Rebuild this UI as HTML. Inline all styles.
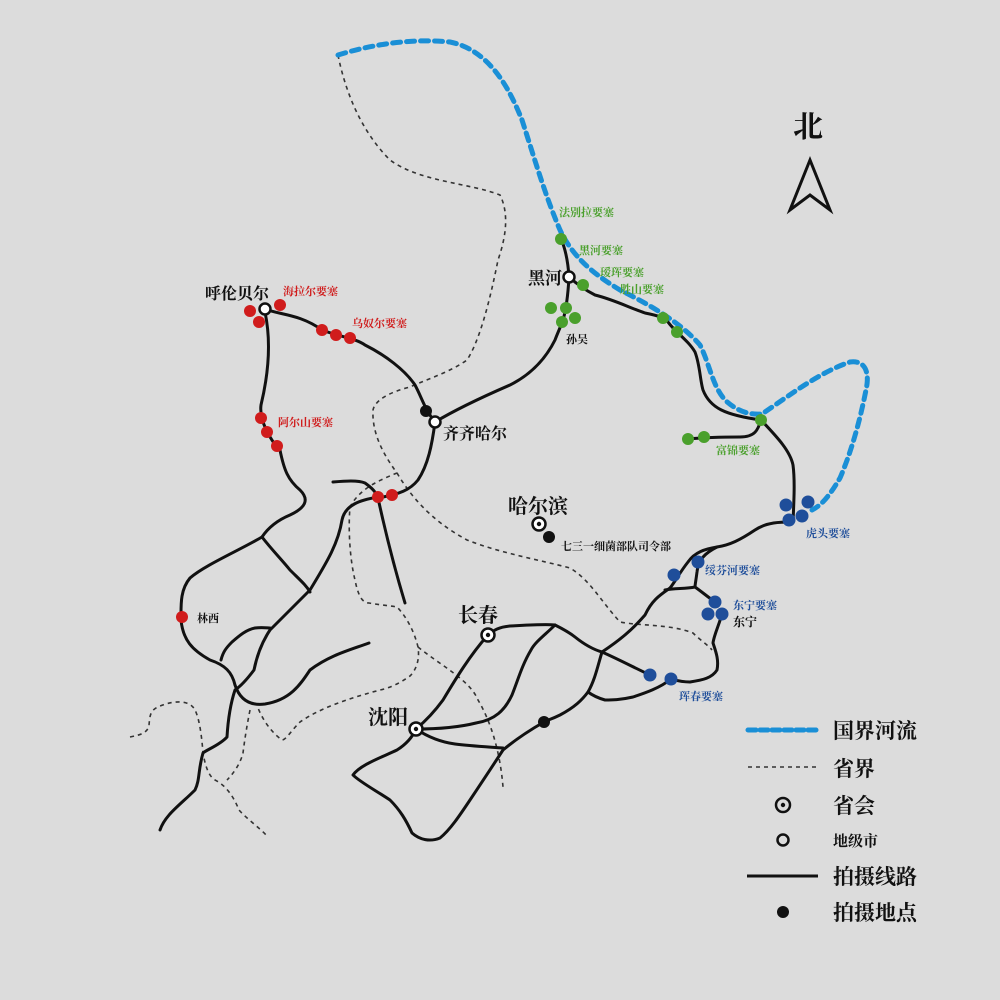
<!DOCTYPE html>
<html><head><meta charset="utf-8"><style>
html,body{margin:0;padding:0;background:#dcdcdc;}
svg{display:block;}
text{font-family:"Liberation Serif","Noto Serif CJK SC","Noto Sans CJK SC",serif;font-weight:bold;}
</style></head><body>
<svg width="1000" height="1000" viewBox="0 0 1000 1000" xmlns="http://www.w3.org/2000/svg">
<rect width="1000" height="1000" fill="#dcdcdc"/>
<g fill="none" stroke="#333" stroke-width="1.6" stroke-dasharray="4,4">
<path d="M338,55 C345,90 360,130 390,160 C420,182 470,183 500,195 C510,215 505,240 498,260 C490,300 480,340 467,360 C450,372 430,378 410,387 C390,392 375,400 373,410 C372,430 380,450 397,473 C380,480 360,488 350,507 C348,530 350,560 355,580 C358,595 362,603 369,603 C380,605 392,606 397,607 C405,615 414,630 418,647 C420,660 416,670 410,676 C400,683 390,688 380,690 C350,698 320,708 300,722 C290,732 286,740 282,740 C275,735 265,725 258,708"/>
<path d="M397,473 C410,495 430,520 467,540 C500,553 540,560 570,568 C590,580 600,600 620,622 C640,626 670,624 693,633 C700,640 708,645 712,650"/>
<path d="M418,647 C440,665 470,680 478,700 C490,720 500,750 503,787"/>
<path d="M130,737 C140,735 148,733 149,725 C150,715 150,710 160,706 C175,700 190,700 195,710 C200,720 202,740 203,753 C206,770 210,777 215,780 C225,785 233,795 239,810 C248,820 260,828 268,837"/>
<path d="M250,710 C246,730 244,745 243,753 C240,765 232,775 227,780"/>
</g>
<path d="M338,55 C370,45 410,38 450,42 C490,50 510,90 522,120 C535,160 545,195 560,230 C572,255 590,272 620,290 C650,305 680,322 700,345 C710,365 712,385 725,400 C738,412 750,415 762,414 C790,395 820,372 850,362 C865,360 870,372 866,390 C860,420 852,450 840,478 C830,495 822,505 812,510" fill="none" stroke="#1a8fd6" stroke-width="5" stroke-dasharray="8,6" stroke-linecap="round"/>
<g fill="none" stroke="#111" stroke-width="3" stroke-linecap="round" stroke-linejoin="round">
<path d="M265,309 C280,315 300,314 322,330 C340,337 355,338 365,345 C385,355 405,370 415,385 C422,398 425,410 435,422"/>
<path d="M265,312 C272,345 267,380 261,405 C259,420 270,440 280,450 C284,470 288,480 300,490 C310,500 305,508 290,515 C278,520 268,528 262,537 C240,550 205,565 190,578 C180,590 181,605 181,620 C183,640 192,650 210,660 C225,665 232,672 235,685 C240,700 250,706 265,704 C290,700 300,685 310,670 C330,655 350,650 369,643"/>
<path d="M262,537 C272,550 282,560 290,570 C300,580 306,585 310,592"/>
<path d="M378,497 C360,500 345,505 342,520 C338,545 325,565 310,590 C295,605 280,620 270,630 C260,645 256,660 254,670 C245,682 238,688 235,690 C230,705 228,720 227,737 C220,745 206,750 203,753 C198,770 200,780 195,790 C180,805 165,815 160,830"/>
<path d="M221,660 C223,652 226,648 232,642 C240,635 246,630 255,628 C262,627 268,628 270,628"/>
<path d="M435,422 C432,445 428,465 418,480 C410,490 400,494 378,498"/>
<path d="M333,482 C345,481 358,480 365,483 C372,488 376,492 378,498 C385,530 395,570 405,603"/>
<path d="M435,422 C455,410 480,398 510,385 C530,375 545,360 555,340 C558,332 561,326 562,322"/>
<path d="M561,239 C566,250 568,262 569,277 C568,295 566,310 563,320"/>
<path d="M569,277 C578,285 585,290 595,295 C615,300 630,308 645,313 C660,316 665,318 668,322 C675,332 688,340 695,352 C700,365 700,380 703,390 C710,408 725,415 761,420 C758,430 755,437 740,437 C725,437 710,437 688,439"/>
<path d="M761,420 C775,435 790,450 793,465 C795,480 794,500 793,522 C780,522 767,522 755,530 C740,540 730,545 717,547 C705,549 695,552 688,562 C680,572 675,582 670,588 C660,595 652,600 645,615 C632,630 620,640 602,652"/>
<path d="M717,547 C705,553 698,560 697,572 C696,580 695,585 695,587 C685,589 675,588 665,590"/>
<path d="M695,587 C702,592 708,597 715,602"/>
<path d="M722,614 C719,625 714,635 713,643 C716,652 719,660 717,670 C712,678 703,680 690,682 C680,682 675,680 671,679 C660,688 645,693 633,697 C620,700 612,700 605,700 C598,698 592,695 588,692"/>
<path d="M650,675 C635,668 620,660 602,652 C598,665 595,680 588,692 C582,700 575,707 560,715 C550,720 547,720 544,722 C530,730 515,740 503,750 C490,770 480,785 470,800 C460,815 450,830 440,838 C430,842 420,840 412,833 C406,820 400,810 390,800 C375,790 360,782 353,775 C360,765 380,758 397,750 C405,745 412,738 416,729"/>
<path d="M488,635 C494,630 499,627 510,626 C530,625 545,624 555,625 C565,630 570,633 575,637 C585,645 595,650 602,652"/>
<path d="M555,625 C545,635 535,642 531,650 C522,665 518,680 512,695 C505,710 495,720 476,723 C460,727 440,729 416,729"/>
<path d="M488,635 C470,655 455,680 443,700 C432,715 422,724 416,729"/>
<path d="M416,729 C428,737 440,742 455,744 C470,746 490,747 503,748"/>
</g>
<g fill="#d01c1c">
<circle cx="250" cy="311" r="6"/><circle cx="259" cy="322" r="6"/><circle cx="280" cy="305" r="6"/>
<circle cx="322" cy="330" r="6"/><circle cx="336" cy="335" r="6"/><circle cx="350" cy="338" r="6"/>
<circle cx="261" cy="418" r="6"/><circle cx="267" cy="432" r="6"/><circle cx="277" cy="446" r="6"/>
<circle cx="378" cy="497" r="6"/><circle cx="392" cy="495" r="6"/><circle cx="182" cy="617" r="6"/>
</g>
<g fill="#4aa02c">
<circle cx="561" cy="239" r="6"/><circle cx="583" cy="285" r="6"/>
<circle cx="551" cy="308" r="6"/><circle cx="566" cy="308" r="6"/><circle cx="575" cy="318" r="6"/><circle cx="562" cy="322" r="6"/>
<circle cx="663" cy="318" r="6"/><circle cx="677" cy="332" r="6"/><circle cx="761" cy="420" r="6"/>
<circle cx="688" cy="439" r="6"/><circle cx="704" cy="437" r="6"/>
</g>
<g fill="#1f4e9a">
<circle cx="786" cy="505" r="6.5"/><circle cx="808" cy="502" r="6.5"/><circle cx="789" cy="520" r="6.5"/><circle cx="802" cy="516" r="6.5"/>
<circle cx="674" cy="575" r="6.5"/><circle cx="698" cy="562" r="6.5"/>
<circle cx="715" cy="602" r="6.5"/><circle cx="708" cy="614" r="6.5"/><circle cx="722" cy="614" r="6.5"/>
<circle cx="650" cy="675" r="6.5"/><circle cx="671" cy="679" r="6.5"/>
</g>
<g fill="#111"><circle cx="426" cy="411" r="6"/><circle cx="549" cy="537" r="6"/><circle cx="544" cy="722" r="6"/></g>
<g fill="#fff" stroke="#111" stroke-width="2.5">
<circle cx="265" cy="309" r="5.5"/><circle cx="435" cy="422" r="5.5"/><circle cx="569" cy="277" r="5.5"/>
<circle cx="539" cy="524" r="6.5"/><circle cx="488" cy="635" r="6.5"/><circle cx="416" cy="729" r="6.5"/>
</g>
<g fill="#111"><circle cx="539" cy="524" r="2.2"/><circle cx="488" cy="635" r="2.2"/><circle cx="416" cy="729" r="2.2"/></g>
<g fill="#111">
<text x="205" y="299" font-size="16">呼伦贝尔</text>
<text x="443" y="439" font-size="16">齐齐哈尔</text>
<text x="528" y="284" font-size="17">黑河</text>
<text x="566" y="343" font-size="11">孙吴</text>
<text x="508" y="513" font-size="20">哈尔滨</text>
<text x="561" y="550" font-size="11">七三一细菌部队司令部</text>
<text x="458" y="622" font-size="20">长春</text>
<text x="368" y="724" font-size="20">沈阳</text>
<text x="197" y="622" font-size="11">林西</text>
<text x="733" y="626" font-size="12">东宁</text>
<text x="793" y="137" font-size="30">北</text>
</g>
<g fill="#d01c1c" font-size="11">
<text x="283" y="295">海拉尔要塞</text><text x="352" y="327">乌奴尔要塞</text><text x="278" y="426">阿尔山要塞</text>
</g>
<g fill="#4aa02c" font-size="11">
<text x="559" y="216">法别拉要塞</text><text x="579" y="254">黑河要塞</text><text x="600" y="276">瑷珲要塞</text><text x="620" y="293">胜山要塞</text><text x="716" y="454">富锦要塞</text>
</g>
<g fill="#1f4e9a" font-size="11">
<text x="806" y="537">虎头要塞</text><text x="705" y="574">绥芬河要塞</text><text x="733" y="609">东宁要塞</text><text x="679" y="700">珲春要塞</text>
</g>
<path d="M810,160 L790,210 L810,195 L830,210 Z" fill="none" stroke="#111" stroke-width="3" stroke-linejoin="miter"/>
<line x1="748" y1="730" x2="816" y2="730" stroke="#1a8fd6" stroke-width="5" stroke-dasharray="8,4" stroke-linecap="round"/>
<line x1="748" y1="767" x2="818" y2="767" stroke="#333" stroke-width="1.6" stroke-dasharray="4,4"/>
<circle cx="783" cy="805" r="7" fill="none" stroke="#111" stroke-width="2.5"/><circle cx="783" cy="805" r="2.2" fill="#111"/>
<circle cx="783" cy="840" r="5.5" fill="none" stroke="#111" stroke-width="2.5"/>
<line x1="747" y1="876" x2="818" y2="876" stroke="#111" stroke-width="3"/>
<circle cx="783" cy="912" r="6" fill="#111"/>
<g fill="#111" font-size="21">
<text x="833" y="738">国界河流</text><text x="833" y="776">省界</text><text x="833" y="813">省会</text>
<text x="833" y="846" font-size="15">地级市</text><text x="833" y="884">拍摄线路</text><text x="833" y="920">拍摄地点</text>
</g>
</svg>
</body></html>
